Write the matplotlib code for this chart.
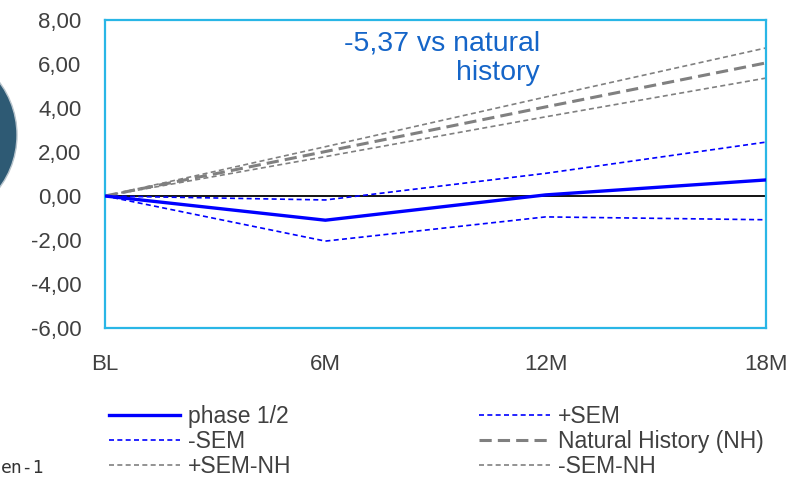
import numpy as np
import matplotlib
matplotlib.use('Agg')
import matplotlib.pyplot as plt
from matplotlib.patches import Circle
from matplotlib.ticker import FuncFormatter

plt.rcParams['font.family'] = ['Liberation Sans', 'DejaVu Sans']

# дані
visits = ['BL', '6M', '12M', '18M']
phase = [0.0, -1.10, 0.05, 0.73]
sem_plus = [0.0, -0.18, 1.03, 2.45]
sem_minus = [0.0, -2.05, -0.95, -1.08]
nh = [0.0, 2.02, 4.05, 6.05]
nh_plus = [0.0, 2.24, 4.50, 6.73]
nh_minus = [0.0, 1.79, 3.60, 5.36]
y_ticks = [-6, -4, -2, 0, 2, 4, 6, 8]

fig = plt.figure(figsize=(8.02, 4.78), dpi=100)
ax = fig.add_axes([105 / 802, 1 - 328 / 478, 661 / 802, 308 / 478])

x = np.arange(len(visits))
blue = '#0000FF'
grey = '#808080'

ax.axhline(0, color='black', lw=1.3, zorder=1)
l_phase, = ax.plot(x, phase, color=blue, lw=2.4, label='phase 1/2', zorder=5)
l_sp, = ax.plot(x, sem_plus, color=blue, lw=1.2, ls=(0, (3, 2)), label='+SEM')
l_sm, = ax.plot(x, sem_minus, color=blue, lw=1.2, ls=(0, (3, 2)), label='-SEM')
l_nh, = ax.plot(x, nh, color=grey, lw=2.2, ls=(0, (4, 2)), label='Natural History (NH)')
l_np, = ax.plot(x, nh_plus, color=grey, lw=1.2, ls=(0, (3, 2)), label='+SEM-NH')
l_nm, = ax.plot(x, nh_minus, color=grey, lw=1.2, ls=(0, (3, 2)), label='-SEM-NH')

ax.set_xlim(0, 3)
ax.set_ylim(-6, 8)
ax.set_xticks(x)
ax.set_xticklabels(visits)
ax.set_yticks(y_ticks)
ax.yaxis.set_major_formatter(FuncFormatter(lambda v, p: f'{v:.2f}'.replace('.', ',')))
ax.tick_params(length=0, labelsize=16, colors='#404040')
ax.tick_params(axis='y', pad=17)
ax.tick_params(axis='x', pad=19)
for s in ax.spines.values():
    s.set_color('#29B6E6')
    s.set_linewidth(1.6)

# підпис різниці
ax.text(540 / 802, 1 - 58 / 478, '-5,37 vs natural\nhistory', transform=fig.transFigure,
        ha='right', va='center', fontsize=20.5, color='#1565C8', linespacing=1.2)

# легенда: два окремі стовпці
leg_kw = dict(loc='upper left', frameon=False, fontsize=16.5, handlelength=3.1,
              handletextpad=0.35, labelspacing=0.08, borderpad=0, borderaxespad=0,
              labelcolor='#404040')
col1 = [l_phase, l_sm, l_np]
col2 = [l_sp, l_nh, l_nm]
leg1 = fig.legend(handles=col1, labels=[h.get_label() for h in col1],
                  bbox_to_anchor=(109 / 802, 1 - 405 / 478), **leg_kw)
leg2 = fig.legend(handles=col2, labels=[h.get_label() for h in col2],
                  bbox_to_anchor=(479 / 802, 1 - 405 / 478), **leg_kw)

# залишки слайду
fig.patches.append(Circle((-71, 478 - 135), 88, transform=None, fc='#2E5A74', ec='#B8C4CC', lw=1))
fig.text(1 / 802, 1 - 468 / 478, 'en-1', fontsize=13, color='#333333', va='center',
         family='DejaVu Sans Mono')

fig.savefig('out.png', dpi=100)
